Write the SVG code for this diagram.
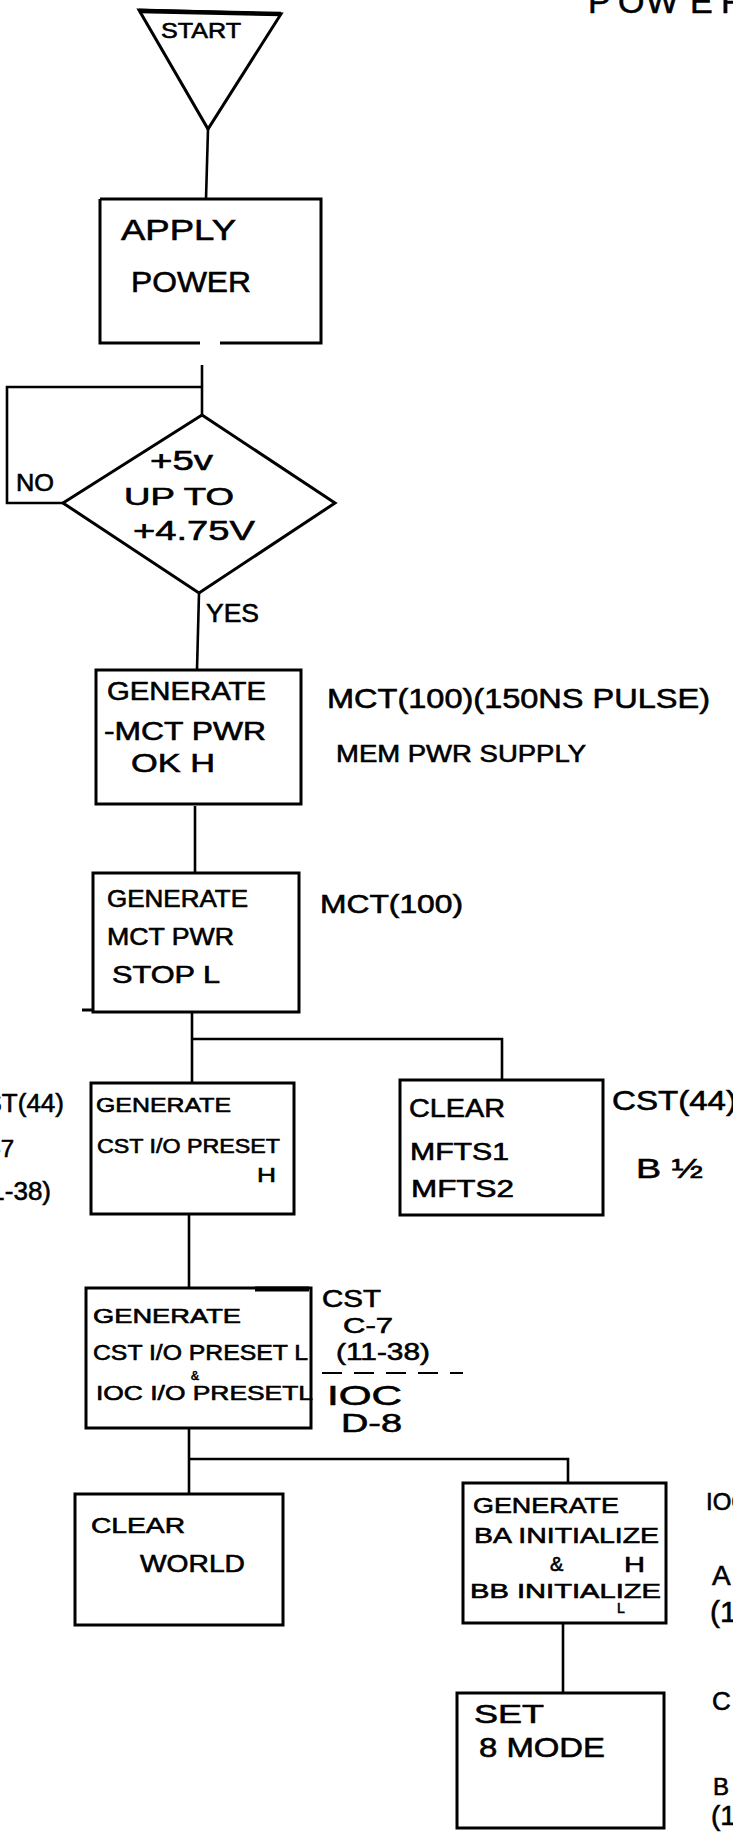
<svg xmlns="http://www.w3.org/2000/svg" width="733" height="1832" viewBox="0 0 733 1832">
<style>
.bg{fill:#ffffff}
.shape{fill:none;stroke:#000;stroke-width:3;stroke-linejoin:miter}
.conn{fill:none;stroke:#000;stroke-width:2.6}
.dash{fill:none;stroke:#000;stroke-width:2;stroke-dasharray:20 12}
text{font-family:"Liberation Sans","DejaVu Sans",Arial,sans-serif;fill:#000;stroke:#000;stroke-width:0.6}
</style>
<rect class="bg" x="0" y="0" width="733" height="1832"/>
<text id="title" x="588 618 646 690 721" y="13" font-size="34">POWER</text>

<g id="connectors">
  <line class="conn" x1="208" y1="129" x2="206" y2="199"/>
  <line class="conn" x1="202" y1="365" x2="202" y2="415"/>
  <polyline class="conn" points="202,387 7,387 7,503 63,503"/>
  <line class="conn" x1="199" y1="593" x2="197" y2="670"/>
  <line class="conn" x1="195" y1="806" x2="195" y2="873"/>
  <line class="conn" x1="192" y1="1012" x2="192" y2="1083"/>
  <polyline class="conn" points="192,1039 502,1039 502,1080"/>
  <line class="conn" x1="189" y1="1214" x2="189" y2="1288"/>
  <line class="conn" x1="189" y1="1428" x2="189" y2="1494"/>
  <polyline class="conn" points="189,1459 568,1459 568,1483"/>
  <line class="conn" x1="563" y1="1623" x2="563" y2="1693"/>
</g>

<g id="start">
  <polygon class="shape" points="139,10 281,14 208,129"/>
  <line x1="139" y1="11" x2="281" y2="14" stroke="#000" stroke-width="4.5"/>
  <text x="161" y="38" font-size="22" textLength="80" lengthAdjust="spacingAndGlyphs">START</text>
</g>

<g id="apply-power">
  <path class="shape" d="M100,199 H321 V343 H220 M200,343 H100 V199"/>
  <text x="121" y="240" font-size="30" textLength="115" lengthAdjust="spacingAndGlyphs">APPLY</text>
  <text x="131" y="292" font-size="30" textLength="120" lengthAdjust="spacingAndGlyphs">POWER</text>
</g>

<g id="check-5v">
  <polygon class="shape" points="202,415 335,503 199,593 63,503"/>
  <text x="150" y="470" font-size="28" textLength="63" lengthAdjust="spacingAndGlyphs">+5v</text>
  <text x="124" y="505" font-size="24" textLength="110" lengthAdjust="spacingAndGlyphs">UP TO</text>
  <text x="133" y="540" font-size="28" textLength="122" lengthAdjust="spacingAndGlyphs">+4.75V</text>
  <text x="16" y="491" font-size="24" textLength="38" lengthAdjust="spacingAndGlyphs">NO</text>
  <text x="206" y="622" font-size="26" textLength="53" lengthAdjust="spacingAndGlyphs">YES</text>
</g>

<g id="gen-mct-pwr-ok">
  <rect class="shape" x="96" y="670" width="205" height="134"/>
  <text x="107" y="700" font-size="26" textLength="159" lengthAdjust="spacingAndGlyphs">GENERATE</text>
  <text x="104" y="740" font-size="26" textLength="162" lengthAdjust="spacingAndGlyphs">-MCT PWR</text>
  <text x="131" y="772" font-size="26" textLength="84" lengthAdjust="spacingAndGlyphs">OK H</text>
  <text x="327" y="708" font-size="28" textLength="383" lengthAdjust="spacingAndGlyphs">MCT(100)(150NS PULSE)</text>
  <text x="336" y="762" font-size="24" textLength="250" lengthAdjust="spacingAndGlyphs">MEM PWR SUPPLY</text>
</g>

<g id="gen-mct-pwr-stop">
  <rect class="shape" x="93" y="873" width="206" height="139"/>
  <line x1="82" y1="1010" x2="93" y2="1010" stroke="#000" stroke-width="3"/>
  <text x="107" y="907" font-size="24" textLength="141" lengthAdjust="spacingAndGlyphs">GENERATE</text>
  <text x="107" y="945" font-size="24" textLength="127" lengthAdjust="spacingAndGlyphs">MCT PWR</text>
  <text x="112" y="983" font-size="24" textLength="108" lengthAdjust="spacingAndGlyphs">STOP L</text>
  <text x="320" y="913" font-size="26" textLength="143" lengthAdjust="spacingAndGlyphs">MCT(100)</text>
</g>

<g id="gen-cst-io-preset-h">
  <rect class="shape" x="91" y="1083" width="203" height="131"/>
  <text x="96" y="1112" font-size="20" textLength="135" lengthAdjust="spacingAndGlyphs">GENERATE</text>
  <text x="97" y="1153" font-size="20" textLength="183" lengthAdjust="spacingAndGlyphs">CST I/O PRESET</text>
  <text x="257" y="1182" font-size="20" textLength="19" lengthAdjust="spacingAndGlyphs">H</text>
  <text x="64" y="1112" font-size="26" text-anchor="end">CST(44)</text>
  <text x="14" y="1157" font-size="24" text-anchor="end">C-7</text>
  <text x="51" y="1200" font-size="26" text-anchor="end">(11-38)</text>
</g>

<g id="clear-mfts">
  <rect class="shape" x="400" y="1080" width="203" height="135"/>
  <text x="409" y="1117" font-size="26" textLength="96" lengthAdjust="spacingAndGlyphs">CLEAR</text>
  <text x="410" y="1160" font-size="24" textLength="99" lengthAdjust="spacingAndGlyphs">MFTS1</text>
  <text x="411" y="1197" font-size="24" textLength="103" lengthAdjust="spacingAndGlyphs">MFTS2</text>
  <text x="612" y="1110" font-size="28" textLength="125" lengthAdjust="spacingAndGlyphs">CST(44)</text>
  <text x="636" y="1178" font-size="28" textLength="67" lengthAdjust="spacingAndGlyphs">B ½</text>
</g>

<g id="gen-cst-ioc-preset-l">
  <rect class="shape" x="86" y="1288" width="225" height="140"/>
  <line x1="255" y1="1289" x2="309" y2="1289" stroke="#000" stroke-width="5"/>
  <text x="93" y="1323" font-size="20" textLength="148" lengthAdjust="spacingAndGlyphs">GENERATE</text>
  <text x="93" y="1360" font-size="22" textLength="215" lengthAdjust="spacingAndGlyphs">CST I/O PRESET L</text>
  <text x="191" y="1380" font-size="12">&amp;</text>
  <text x="96" y="1400" font-size="20" textLength="217" lengthAdjust="spacingAndGlyphs">IOC I/O PRESETL</text>
  <text x="322" y="1307" font-size="24" textLength="59" lengthAdjust="spacingAndGlyphs">CST</text>
  <text x="343" y="1333" font-size="22" textLength="50" lengthAdjust="spacingAndGlyphs">C-7</text>
  <text x="336" y="1360" font-size="24" textLength="94" lengthAdjust="spacingAndGlyphs">(11-38)</text>
  <line class="dash" x1="322" y1="1373" x2="463" y2="1373"/>
  <text x="327" y="1405" font-size="28" textLength="75" lengthAdjust="spacingAndGlyphs">IOC</text>
  <text x="341" y="1432" font-size="26" textLength="61" lengthAdjust="spacingAndGlyphs">D-8</text>
</g>

<g id="clear-world">
  <rect class="shape" x="75" y="1494" width="208" height="131"/>
  <text x="91" y="1533" font-size="22" textLength="94" lengthAdjust="spacingAndGlyphs">CLEAR</text>
  <text x="140" y="1572" font-size="24" textLength="105" lengthAdjust="spacingAndGlyphs">WORLD</text>
</g>

<g id="gen-ba-bb-initialize">
  <rect class="shape" x="463" y="1483" width="203" height="140"/>
  <text x="473" y="1513" font-size="22" textLength="146" lengthAdjust="spacingAndGlyphs">GENERATE</text>
  <text x="474" y="1543" font-size="22" textLength="185" lengthAdjust="spacingAndGlyphs">BA INITIALIZE</text>
  <text x="550" y="1571" font-size="20">&amp;</text>
  <text x="624" y="1572" font-size="22" textLength="21" lengthAdjust="spacingAndGlyphs">H</text>
  <text x="470" y="1598" font-size="20" textLength="191" lengthAdjust="spacingAndGlyphs">BB INITIALIZE</text>
  <text x="617" y="1613" font-size="14">L</text>
  <text x="706" y="1510" font-size="24">IOC</text>
  <text x="712" y="1585" font-size="28">A</text>
  <text x="710" y="1622" font-size="30">(1</text>
</g>

<g id="set-8-mode">
  <rect class="shape" x="457" y="1693" width="207" height="135"/>
  <text x="474" y="1723" font-size="26" textLength="70" lengthAdjust="spacingAndGlyphs">SET</text>
  <text x="479" y="1757" font-size="28" textLength="126" lengthAdjust="spacingAndGlyphs">8 MODE</text>
  <text x="712" y="1710" font-size="26">C</text>
  <text x="713" y="1795" font-size="24">B</text>
  <text x="711" y="1825" font-size="28">(1</text>
</g>
</svg>
